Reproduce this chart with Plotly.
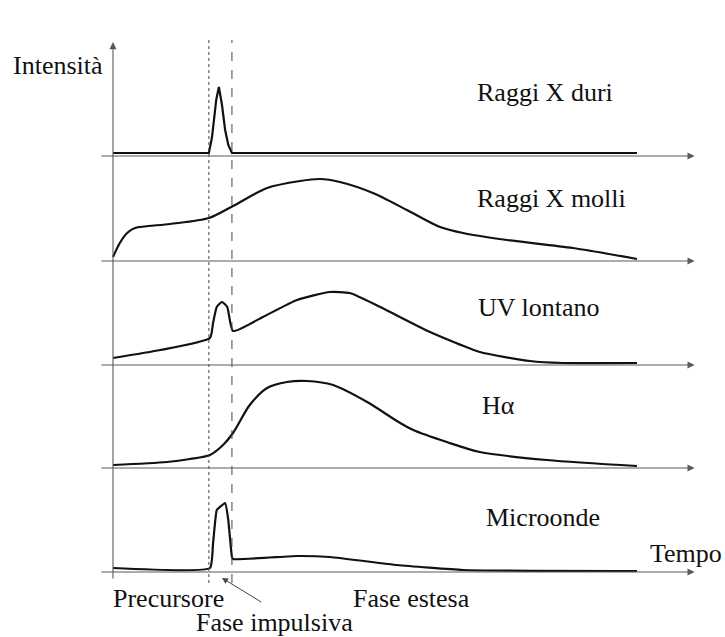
import plotly.graph_objects as go

# ---------------- data (time in arbitrary units 0..100, intensity in arbitrary units) ----------------
panel_names = ["Raggi X duri", "Raggi X molli", "UV lontano", "H\u03b1", "Microonde"]
panel_offsets = [4.81, 3.76, 2.72, 1.69, 0.65]   # stacked baseline of each panel

hard_t = [0, 18.3, 18.9, 19.7, 20.2, 20.8, 21.4, 22.0, 22.7, 100]
hard_i = [0.03, 0.03, 0.19, 0.56, 0.69, 0.51, 0.26, 0.11, 0.03, 0.03]

soft_t = [0, 1.3, 2.7, 4.2, 10.9, 18.3, 22.9, 29.4, 35.7, 39.5, 43.3, 49.6, 56.1, 62.4, 66.8, 75.2, 87.8, 100]
soft_i = [0.04, 0.18, 0.28, 0.33, 0.37, 0.43, 0.55, 0.73, 0.80, 0.82, 0.79, 0.68, 0.51, 0.34, 0.28, 0.21, 0.13, 0.02]

uv_t = [0, 9.0, 18.5, 19.1, 19.8, 20.8, 21.8, 22.9, 28.6, 35.1, 41.4, 45.2, 51.0, 60.5, 70.0, 79.6, 85.9, 100]
uv_i = [0.07, 0.15, 0.27, 0.42, 0.58, 0.63, 0.58, 0.34, 0.48, 0.65, 0.73, 0.72, 0.58, 0.33, 0.13, 0.04, 0.02, 0.02]

ha_t = [0, 10.3, 14.7, 18.5, 21.0, 22.9, 26.1, 29.4, 33.2, 37.0, 42.0, 48.5, 54.8, 57.3, 63.7, 70.0, 82.8, 100]
ha_i = [0.03, 0.06, 0.09, 0.13, 0.23, 0.35, 0.63, 0.80, 0.86, 0.87, 0.83, 0.66, 0.45, 0.38, 0.26, 0.16, 0.08, 0.02]

mw_t = [0, 18.5, 19.1, 19.8, 20.4, 21.4, 22.0, 22.7, 22.9, 35.1, 41.4, 54.2, 66.8, 100]
mw_i = [0.04, 0.04, 0.29, 0.62, 0.65, 0.69, 0.52, 0.15, 0.13, 0.16, 0.15, 0.07, 0.02, 0.01]

phase_bounds = [18.3, 22.7]          # start / end of impulsive phase
phase_labels = ["Precursore", "Fase impulsiva", "Fase estesa"]
x_label = "Tempo"
y_label = "Intensit\u00e0"

# ---------------- figure ----------------
FONT = "Liberation Serif"
FS = 26
fig = go.Figure()

series = [(hard_t, hard_i, "linear", None), (soft_t, soft_i, "spline", 0.8), (uv_t, uv_i, "spline", 0.5),
          (ha_t, ha_i, "spline", 0.8), (mw_t, mw_i, "spline", 0.4)]
for (t, i, shape, sm), off, name in zip(series, panel_offsets, panel_names):
    line = dict(color="#111111", width=2.2, shape=shape)
    if sm is not None:
        line["smoothing"] = sm
    fig.add_trace(go.Scatter(
        x=t, y=[v + off for v in i], mode="lines", name=name,
        line=line, hoverinfo="skip", showlegend=False))

annotations = []
AX = "#5a5a5a"
# horizontal time axes with arrows
for off in panel_offsets:
    annotations.append(dict(x=111, y=off, ax=-2.5, ay=off, xref="x", yref="y", axref="x", ayref="y",
                            text="", showarrow=True, arrowhead=2, arrowsize=1.3, arrowwidth=1.1,
                            arrowcolor=AX, standoff=0))
# vertical intensity axis
annotations.append(dict(x=0, y=5.95, ax=0, ay=0.57, xref="x", yref="y", axref="x", ayref="y",
                        text="", showarrow=True, arrowhead=2, arrowsize=1.3, arrowwidth=1.1,
                        arrowcolor=AX, standoff=0))

# panel labels
label_x = [69.1, 69.1, 69.3, 70.0, 70.8]
label_y = [0.64, 0.63, 0.58, 0.63, 0.55]
for name, off, lx, ly in zip(panel_names, panel_offsets, label_x, label_y):
    annotations.append(dict(x=lx, y=off + ly, xref="x", yref="y", text=name, showarrow=False,
                            xanchor="left", yanchor="middle",
                            font=dict(family=FONT, size=FS, color="#111111")))

annotations.append(dict(x=-1.5, y=5.72, xref="x", yref="y", text=y_label, showarrow=False,
                        xanchor="right", yanchor="middle", font=dict(family=FONT, size=FS, color="#111111")))
annotations.append(dict(x=116.6, y=0.84, xref="x", yref="y", text=x_label, showarrow=False,
                        xanchor="right", yanchor="middle", font=dict(family=FONT, size=FS, color="#111111")))
annotations.append(dict(x=-0.4, y=0.39, xref="x", yref="y", text=phase_labels[0], showarrow=False,
                        xanchor="left", yanchor="middle", font=dict(family=FONT, size=FS, color="#111111")))
annotations.append(dict(x=15.4, y=0.15, xref="x", yref="y", text=phase_labels[1], showarrow=False,
                        xanchor="left", yanchor="middle", font=dict(family=FONT, size=FS, color="#111111")))
annotations.append(dict(x=45.5, y=0.39, xref="x", yref="y", text=phase_labels[2], showarrow=False,
                        xanchor="left", yanchor="middle", font=dict(family=FONT, size=FS, color="#111111")))
# pointer arrow to the impulsive phase
annotations.append(dict(x=20.8, y=0.59, ax=28.6, ay=0.34, xref="x", yref="y", axref="x", ayref="y",
                        text="", showarrow=True, arrowhead=2, arrowsize=1.2, arrowwidth=1,
                        arrowcolor="#444444", standoff=0))

shapes = []
for b, d in zip(phase_bounds, ["dot", "dash"]):
    shapes.append(dict(type="line", x0=b, x1=b, y0=0.54, y1=5.97, xref="x", yref="y",
                       line=dict(color="#444444", width=1, dash=d)))

fig.update_layout(
    width=725, height=637,
    margin=dict(l=0, r=0, t=0, b=0),
    paper_bgcolor="white", plot_bgcolor="white",
    font=dict(family=FONT),
    xaxis=dict(range=[-113 / 5.24, (725 - 113) / 5.24], visible=False, fixedrange=True),
    yaxis=dict(range=[0, 6.37], visible=False, fixedrange=True),
    annotations=annotations, shapes=shapes,
)

fig.write_html("out.html", config={"displayModeBar": False},
               post_script="document.body.style.margin='0px';document.body.style.overflow='hidden';")
